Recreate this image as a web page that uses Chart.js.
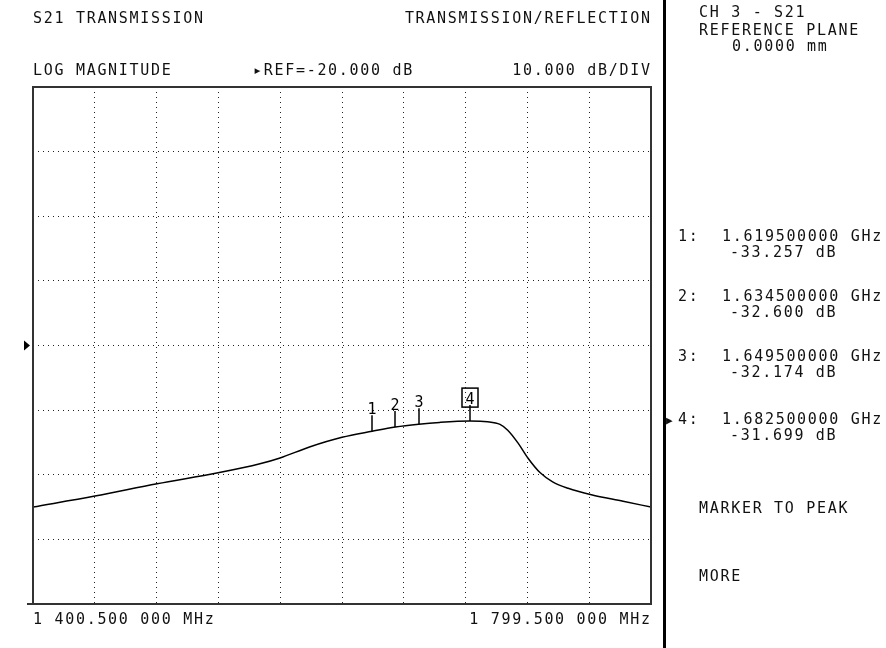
<!DOCTYPE html>
<html>
<head>
<meta charset="utf-8">
<script src="https://cdn.jsdelivr.net/npm/chart.js@4.4.1/dist/chart.umd.min.js"></script>
<style>
    html, body { margin: 0; padding: 0; background: #fff; }
    #wrap { position: relative; width: 886px; height: 648px; overflow: hidden; }
    #c { position: absolute; left: 0; top: 0; }
    .t {
        position: absolute;
        font-family: "DejaVu Sans Mono", monospace;
        font-size: 15px;
        line-height: 15px;
        letter-spacing: 1.7px;
        color: #111;
        white-space: pre;
    }
    #bar { position: absolute; left: 663px; top: 0; width: 3px; height: 648px; background: #000; }
</style>
</head>
<body>
<div id="wrap">
    <canvas id="c" width="886" height="648"></canvas>
    <div id="bar"></div>
</div>
<script>
// Trace: frequency (MHz) and S21 magnitude (dB)
const freqsMHz = [1400.5, 1440.5, 1480.6, 1520.0, 1547.0, 1560.0, 1579.0, 1600.0, 1619.5, 1634.5,
                  1649.5, 1663.0, 1682.5, 1694.0, 1702.0, 1707.0, 1713.7, 1720.0, 1728.0, 1736.0,
                  1746.0, 1761.0, 1781.5, 1799.5];
const magsDb = [-45.0, -43.3, -41.4, -39.7, -38.3, -37.4, -35.7, -34.2, -33.26, -32.6,
                -32.17, -31.9, -31.7, -31.8, -32.2, -33.1, -35.1, -37.4, -39.7, -41.1,
                -42.1, -43.1, -44.1, -45.0];

// Markers
const markerNames = ['1', '2', '3', '4'];
const markerFreqsMHz = [1619.5, 1634.5, 1649.5, 1682.5];
const markerMagsDb = [-33.257, -32.600, -32.174, -31.699];
const activeMarker = 3;

// Sweep / scale settings
const startMHz = 1400.5;
const stopMHz = 1799.5;
const refDb = -20;
const dbPerDiv = 10;
const xDivisions = 10;
const yDivisions = 8;

const wrap = document.getElementById('wrap');

function addText(str, x, capTop, alignRight) {
    const d = document.createElement('div');
    d.className = 't';
    d.textContent = str;
    d.style.top = (capTop - 2) + 'px';
    if (alignRight) d.style.right = (886 - x - 1.7) + 'px';
    else d.style.left = x + 'px';
    wrap.appendChild(d);
    return d;
}

function fmtMHz(f) {
    const s = f.toFixed(6);
    const [ip, fp] = s.split('.');
    const ints = ip.length > 3 ? ip.slice(0, ip.length - 3) + ' ' + ip.slice(-3) : ip;
    return ints + '.' + fp.slice(0, 3) + ' ' + fp.slice(3) + ' MHz';
}

// header texts
addText('S21 TRANSMISSION', 33, 13);
addText('TRANSMISSION/REFLECTION', 650, 13, true);
addText('LOG MAGNITUDE', 33, 65);
addText('\u25B8REF=' + refDb.toFixed(3) + ' dB', 253, 65);
addText(dbPerDiv.toFixed(3) + ' dB/DIV', 650, 65, true);
addText(fmtMHz(startMHz), 33, 614);
addText(fmtMHz(stopMHz), 650, 614, true);

// side panel
addText('CH 3 - S21', 699, 7);
addText('REFERENCE PLANE', 699, 25);
addText('0.0000 mm', 732, 41);
const rowTops = [231, 291, 351, 414];
markerNames.forEach((name, i) => {
    addText(name + ':', 678, rowTops[i]);
    addText((markerFreqsMHz[i] / 1000).toFixed(9) + ' GHz', 722, rowTops[i]);
    addText(markerMagsDb[i].toFixed(3) + ' dB', 730, rowTops[i] + 16);
});
const arrow = addText('\u25B6', 666, rowTops[activeMarker] + 1);
arrow.style.fontSize = '11px';
addText('MARKER TO PEAK', 699, 503);
addText('MORE', 699, 571);

const overlay = {
    id: 'overlay',
    afterDatasetsDraw(chart) {
        const { ctx, chartArea: a, scales: { x, y } } = chart;
        ctx.save();
        // frame
        ctx.strokeStyle = '#333';
        ctx.lineWidth = 2;
        ctx.strokeRect(a.left, a.top, a.right - a.left, a.bottom - a.top);
        ctx.beginPath();
        ctx.moveTo(a.left - 6, a.bottom);
        ctx.lineTo(a.left, a.bottom);
        ctx.stroke();

        // reference position arrow
        const ry = y.getPixelForValue(refDb);
        ctx.fillStyle = '#000';
        ctx.beginPath();
        ctx.moveTo(a.left - 9, ry - 5);
        ctx.lineTo(a.left - 3, ry);
        ctx.lineTo(a.left - 9, ry + 5);
        ctx.closePath();
        ctx.fill();

        // markers
        ctx.strokeStyle = '#000';
        ctx.lineWidth = 1.5;
        ctx.font = '15px "DejaVu Sans Mono", monospace';
        ctx.textAlign = 'center';
        ctx.textBaseline = 'alphabetic';
        markerNames.forEach((name, i) => {
            const px = Math.round(x.getPixelForValue(markerFreqsMHz[i]));
            const py = y.getPixelForValue(markerMagsDb[i]);
            ctx.beginPath();
            ctx.moveTo(px, py);
            ctx.lineTo(px, py - 16);
            ctx.stroke();
            const base = py - 17;
            ctx.fillText(name, px, base);
            if (i === activeMarker) {
                ctx.lineWidth = 1.5;
                ctx.strokeRect(px - 8, base - 16, 16, 19);
            }
        });
        ctx.restore();
    }
};

const gridOpts = { color: '#222', lineWidth: 1, drawTicks: false };

new Chart(document.getElementById('c').getContext('2d'), {
    type: 'line',
    data: {
        datasets: [{
            data: freqsMHz.map((f, i) => ({ x: f, y: magsDb[i] })),
            borderColor: '#000',
            borderWidth: 1.5,
            pointRadius: 0,
            cubicInterpolationMode: 'monotone',
            fill: false
        }]
    },
    options: {
        responsive: false,
        animation: false,
        layout: { padding: { left: 33, top: 87, right: 235, bottom: 44 } },
        plugins: { legend: { display: false }, tooltip: { enabled: false } },
        scales: {
            x: {
                type: 'linear',
                min: startMHz,
                max: stopMHz,
                afterBuildTicks: s => {
                    s.ticks = Array.from({ length: xDivisions + 1 },
                        (_, i) => ({ value: startMHz + i * (stopMHz - startMHz) / xDivisions }));
                },
                ticks: { display: false },
                grid: gridOpts,
                border: { display: false, dash: [1, 4] }
            },
            y: {
                min: refDb - (yDivisions / 2) * dbPerDiv,
                max: refDb + (yDivisions / 2) * dbPerDiv,
                ticks: { display: false, stepSize: dbPerDiv },
                grid: gridOpts,
                border: { display: false, dash: [1, 4] }
            }
        }
    },
    plugins: [overlay]
});
</script>
</body>
</html>
